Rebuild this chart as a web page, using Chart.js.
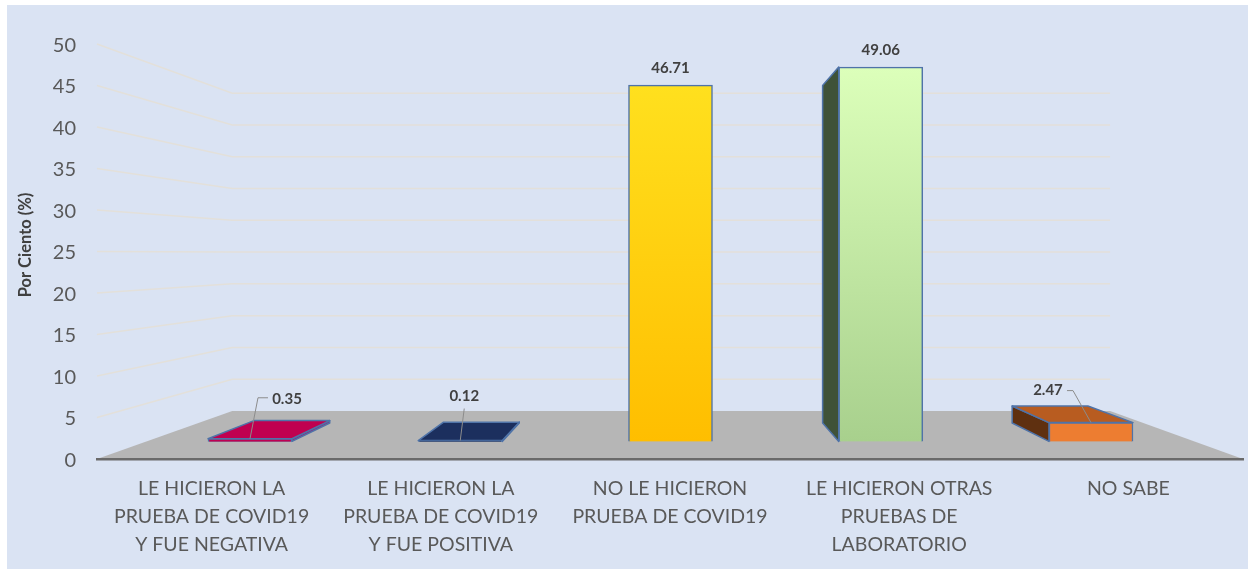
<!DOCTYPE html>
<html><head><meta charset="utf-8">
<style>html,body{margin:0;padding:0;background:#fff}#w{width:1248px;height:569px}</style>
<script src="https://cdn.jsdelivr.net/npm/chart.js@4"></script></head>
<body><div id="w"><canvas id="c" width="1248" height="569"></canvas></div>
<script>
const categories = [
  ["LE HICIERON LA","PRUEBA DE COVID19","Y FUE NEGATIVA"],
  ["LE HICIERON LA","PRUEBA DE COVID19","Y FUE POSITIVA"],
  ["NO LE HICIERON","PRUEBA DE COVID19"],
  ["LE HICIERON OTRAS","PRUEBAS DE","LABORATORIO"],
  ["NO SABE"]
];
const values = [0.35, 0.12, 46.71, 49.06, 2.47];
const valueLabels = ["0.35","0.12","46.71","49.06","2.47"];
const axisTicks = [0,5,10,15,20,25,30,35,40,45,50];
const frontColors = ["#C00050","#1C2F5E",["#FFE01E","#FFBE00"],["#DCFFBA","#A8D08D"],"#ED7D31"];
const topColors = ["#C00050","#1C2F5E","#FFE01E","#DCFFBA","#B85C20"];
const sideColors = ["#8A2A80","#1C2F5E","#7A6000","#3F5238","#5F3010"];
const edgeColor = "#4F73A8";
// leader lines of the labels that sit away from their bar: [dx,dy] from the bar top centre
const leaders = [
  {pts:[[0,0],[8,-41],[18,-41]], label:[37,-40]},
  {pts:[[0,0],[4,-32]], label:[4,-44]},
  null,
  null,
  {pts:[[0,0],[-18,-32],[-24,-32]], label:[-43,-32]}
];
const VP = {x:675, y:254};
const WALL_K = 0.234, BAR_K = 0.0985;
const back = (x,y,k)=>[x+(VP.x-x)*k, y+(VP.y-y)*k];
function poly(ctx,pts,fill,stroke,lw){
  ctx.beginPath();pts.forEach((p,i)=>i?ctx.lineTo(p[0],p[1]):ctx.moveTo(p[0],p[1]));ctx.closePath();
  if(fill){ctx.fillStyle=fill;ctx.fill();}
  if(stroke){ctx.strokeStyle=stroke;ctx.lineWidth=lw||1;ctx.lineJoin="round";ctx.stroke();}
}
const scenePlugin = {
  id:"scene",
  beforeDraw(chart){
    const c=chart.ctx; c.save();
    c.fillStyle="#fff";c.fillRect(0,0,1248,569);
    c.fillStyle="#DAE3F3";c.fillRect(7,5,1241,564);
    const ys=chart.scales.y, xa=chart.chartArea;
    c.strokeStyle="#E3E0DA";c.lineWidth=1.5;
    axisTicks.filter(t=>t>0).forEach(t=>{
      const y=ys.getPixelForValue(t);
      const a=back(xa.left,y,WALL_K), b=back(xa.right,y,WALL_K);
      c.beginPath();c.moveTo(xa.left,y);c.lineTo(a[0],a[1]);c.lineTo(b[0],b[1]);c.stroke();
    });
    const y0=ys.getPixelForValue(0);
    poly(c,[[xa.left,y0],back(xa.left,y0,WALL_K),back(xa.right,y0,WALL_K),[xa.right,y0]],"#B6B6B6");
    c.restore();
  },
  beforeDatasetsDraw(chart){
    const c=chart.ctx, meta=chart.getDatasetMeta(0); c.save();
    meta.data.forEach((el,i)=>{
      const p=el.getProps(["x","y","base","width"],true);
      const l=p.x-p.width/2,r=p.x+p.width/2,t=p.y,b=p.base;
      const bl=back(l,b,BAR_K),tl=back(l,t,BAR_K),br=back(r,b,BAR_K),tr=back(r,t,BAR_K);
      if(bl[0]<l) poly(c,[[l,b],[l,t],tl,bl],sideColors[i],edgeColor,1.5);
      if(br[0]>r) poly(c,[[r,b],[r,t],tr,br],sideColors[i],edgeColor,1.5);
      if(t>VP.y) poly(c,[[l,t],[r,t],tr,tl],topColors[i],edgeColor,1.5);
    });
    c.restore();
  },
  afterDatasetsDraw(chart){
    const c=chart.ctx, meta=chart.getDatasetMeta(0); c.save();
    c.textBaseline="middle";
    meta.data.forEach((el,i)=>{
      const p=el.getProps(["x","y"],true), L=leaders[i];
      c.font="bold 15px Lato";c.fillStyle="#404040";c.textAlign="center";
      if(L){
        c.strokeStyle="#8C8C8C";c.lineWidth=1;c.beginPath();
        L.pts.forEach((q,j)=>j?c.lineTo(p.x+q[0],p.y+q[1]):c.moveTo(p.x+q[0],p.y+q[1]));c.stroke();
        c.fillText(valueLabels[i],p.x+L.label[0],p.y+L.label[1]);
      } else c.fillText(valueLabels[i],p.x,p.y-17);
    });
    c.translate(26,245);c.rotate(-Math.PI/2);c.font="bold 16.5px Lato";c.fillStyle="#404040";
    c.fillText("Por Ciento (%)",0,0);
    c.restore();
  }
};
function fill(ctx){
  const col=frontColors[ctx.dataIndex];
  if(!Array.isArray(col)) return col;
  const s=ctx.chart.scales.yBar;
  if(!s||!ctx.chart.chartArea) return col[1];
  const g=ctx.chart.ctx.createLinearGradient(0,s.getPixelForValue(values[ctx.dataIndex]),0,s.getPixelForValue(0));
  g.addColorStop(0,col[0]);g.addColorStop(1,col[1]);return g;
}
new Chart(document.getElementById("c"),{
  type:"bar",
  data:{labels:categories,datasets:[{
    data:values.map((v,i)=>({x:i,y:v})),
    xAxisID:"xBar",yAxisID:"yBar",
    backgroundColor:fill,borderColor:edgeColor,borderWidth:1.5,
    barThickness:84
  }]},
  plugins:[scenePlugin],
  options:{
    responsive:false,animation:false,
    layout:{padding:{top:44,right:5,left:0,bottom:0}},
    plugins:{legend:{display:false},tooltip:{enabled:false}},
    scales:{
      x:{type:"category",offset:true,position:"bottom",
        grid:{display:false,drawTicks:false},
        border:{display:true,color:"#6A6A6A",width:2.5},
        ticks:{autoSkip:false,maxRotation:0,minRotation:0,padding:16,color:"#595959",font:{family:"Lato",size:19.5,lineHeight:1.436}},
        afterFit(s){s.height=110;}
      },
      y:{type:"linear",min:0,max:50,position:"left",
        grid:{display:false,drawTicks:false},border:{display:false},
        afterBuildTicks(s){s.ticks=axisTicks.map(v=>({value:v}));},
        ticks:{padding:21,labelOffset:1.5,color:"#595959",font:{family:"Lato",size:20}},
        afterFit(s){s.width=97;}
      },
      xBar:{type:"linear",display:false,min:-0.7277,max:4.723,position:"bottom",offset:false},
      yBar:{type:"linear",display:false,min:-2.3,max:52.09,position:"left"}
    }
  }
});
</script></body></html>
